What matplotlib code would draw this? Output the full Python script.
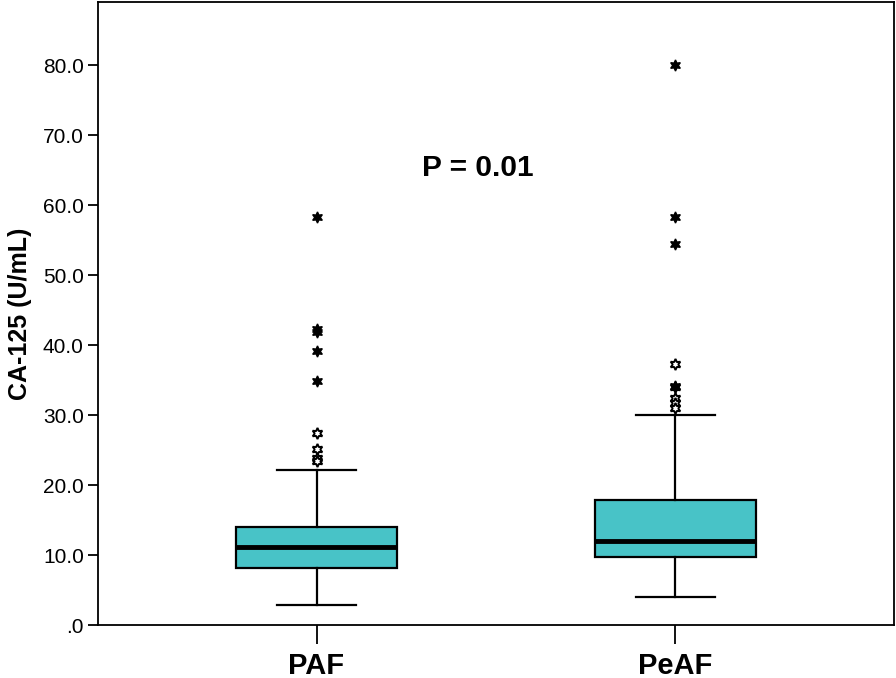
import matplotlib
matplotlib.use("Agg")
import matplotlib.pyplot as plt

plt.rcParams["font.family"] = ["Liberation Sans", "DejaVu Sans"]

groups = ["PAF", "PeAF"]
q1 = [8.1, 9.7]
median = [11.2, 12.0]
q3 = [14.0, 17.9]
whisker_low = [2.9, 4.0]
whisker_high = [22.2, 30.0]

# open star = outlier (>1.5 IQR), filled star = extreme (>3 IQR)
outliers_open = [
    [27.4, 25.1, 23.8, 23.4],
    [37.3, 34.0, 32.4, 31.7, 31.0],
]
outliers_extreme = [
    [58.3, 42.3, 41.9, 39.2, 34.9],
    [80.0, 58.3, 54.4, 34.2],
]

y_ticks = [0, 10, 20, 30, 40, 50, 60, 70, 80]
y_tick_labels = [".0", "10.0", "20.0", "30.0", "40.0", "50.0", "60.0", "70.0", "80.0"]
p_text = "P = 0.01"

fig = plt.figure(figsize=(8.96, 6.78), dpi=100)
ax = fig.add_axes([0.109, 0.078, 0.889, 0.919])

stats = []
for i, g in enumerate(groups):
    stats.append({
        "label": g, "q1": q1[i], "med": median[i], "q3": q3[i],
        "whislo": whisker_low[i], "whishi": whisker_high[i], "fliers": [],
    })

positions = [1, 2]
ax.bxp(
    stats, positions=positions, widths=0.45, patch_artist=True, showfliers=False,
    boxprops=dict(facecolor="#48C3C7", edgecolor="black", linewidth=1.6),
    medianprops=dict(color="black", linewidth=3.5),
    whiskerprops=dict(color="black", linewidth=1.6),
    capprops=dict(color="black", linewidth=1.6),
    capwidths=0.22,
)

star = (6, 1, 0)
for i, pos in enumerate(positions):
    ax.plot([pos] * len(outliers_open[i]), outliers_open[i], linestyle="none",
            marker=star, markersize=8, markerfacecolor="white",
            markeredgecolor="black", markeredgewidth=1.4)
    ax.plot([pos] * len(outliers_extreme[i]), outliers_extreme[i], linestyle="none",
            marker=star, markersize=8, markerfacecolor="black",
            markeredgecolor="black", markeredgewidth=1.0)

ax.text(1.45, 65.3, p_text, ha="center", va="center", fontsize=21.5, fontweight="bold")

ax.set_xlim(0.39, 2.61)
ax.set_ylim(0, 89)
ax.set_yticks(y_ticks)
ax.set_yticklabels(y_tick_labels, fontsize=15)
ax.set_xticks(positions)
ax.set_xticklabels(groups, fontsize=21, fontweight="bold")
ax.set_ylabel("CA-125 (U/mL)", fontsize=18, fontweight="bold", labelpad=8)
ax.tick_params(axis="y", direction="out", length=7, width=1.3, pad=3)
ax.tick_params(axis="x", direction="out", length=14, width=1.3, pad=5)
for s in ax.spines.values():
    s.set_linewidth(1.3)

fig.savefig("out.png", dpi=100)
